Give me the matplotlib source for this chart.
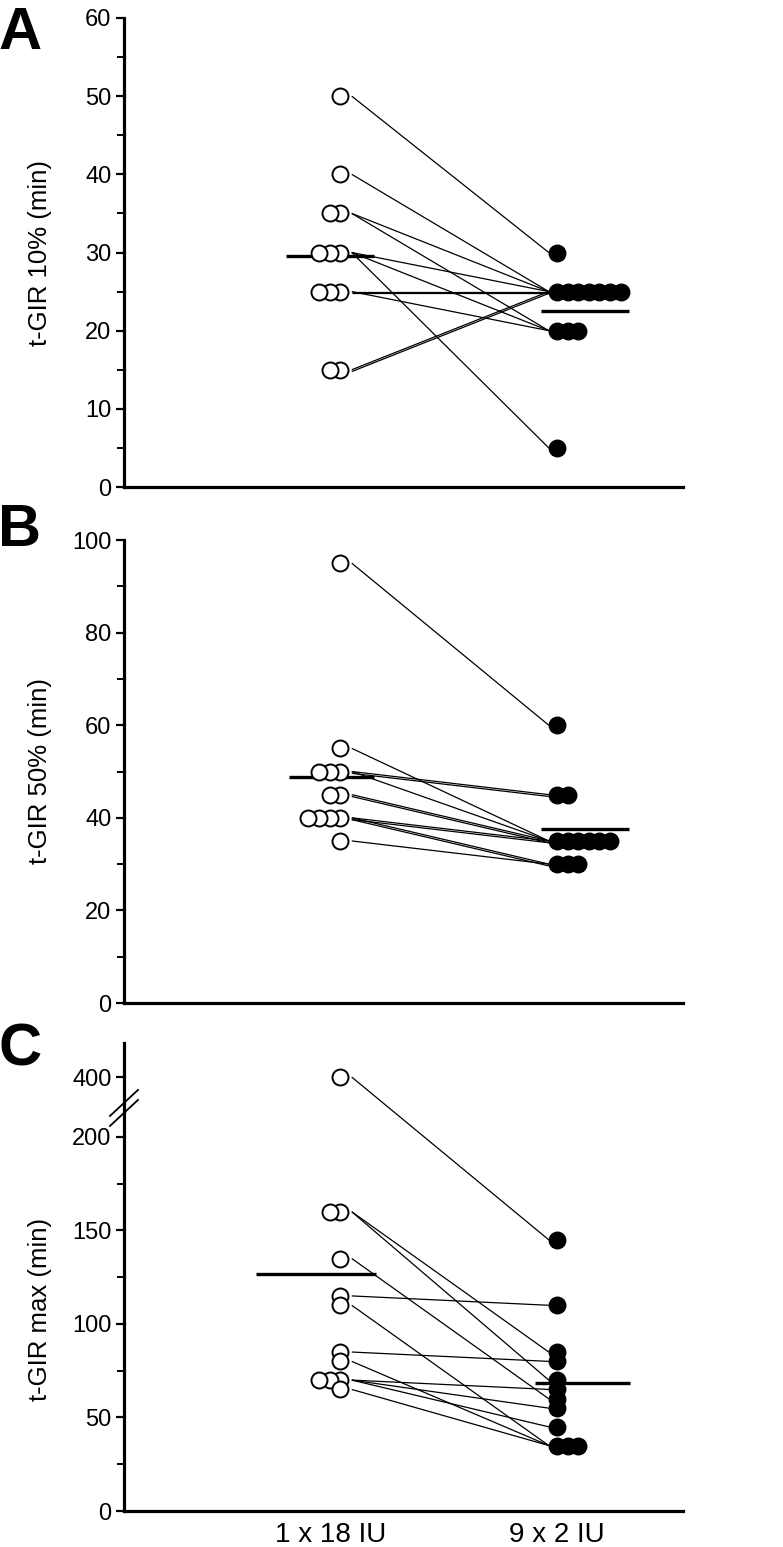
import matplotlib
matplotlib.use('Agg')
import matplotlib.pyplot as plt
import numpy as np
from collections import Counter
from matplotlib.ticker import FixedLocator, MultipleLocator
from matplotlib.lines import Line2D
import matplotlib.transforms as mtrans

plt.rcParams['font.family'] = ['Liberation Sans', 'DejaVu Sans']

# ---------------- data ----------------
groups = ['1 x 18 IU', '9 x 2 IU']

a_single = [50, 40, 35, 35, 30, 30, 30, 25, 25, 25, 15, 15]
a_split = [30, 25, 25, 20, 25, 20, 5, 25, 25, 20, 25, 25]

b_single = [95, 55, 50, 50, 50, 45, 45, 40, 40, 40, 40, 35]
b_split = [60, 35, 45, 45, 35, 35, 35, 35, 30, 30, 35, 30]

c_single = [400, 160, 160, 135, 115, 110, 85, 80, 70, 70, 70, 65]
c_split = [145, 85, 70, 60, 110, 35, 80, 35, 65, 55, 45, 35]

a_label = 't-GIR 10% (min)'
b_label = 't-GIR 50% (min)'
c_label = 't-GIR max (min)'

# ---------------- layout ----------------
W, H = 783, 1547
fig = plt.figure(figsize=(W / 100, H / 100), dpi=100)


def rect(l, r, b, t):
    return [l / W, 1 - b / H, (r - l) / W, (b - t) / H]


axA = fig.add_axes(rect(124, 683, 487, 18))
axB = fig.add_axes(rect(124, 683, 1003, 540))
axC = fig.add_axes(rect(124, 683, 1511, 1043))

FS_TICK = 17
FS_LABEL = 18.5
FS_XT = 20
MS = 11.5
LABEL_X = -0.128


def stack_x(values, base, step):
    seen = Counter()
    xs = []
    for v in values:
        xs.append(base + step * seen[v])
        seen[v] += 1
    return xs


def style_axis(ax):
    for s in ['top', 'right']:
        ax.spines[s].set_visible(False)
    for s in ['left', 'bottom']:
        ax.spines[s].set_linewidth(2.3)
    ax.tick_params(axis='y', which='major', direction='out', length=6, width=1.6,
                   labelsize=FS_TICK, pad=3)
    ax.tick_params(axis='y', which='minor', direction='out', length=5, width=1.4)
    ax.tick_params(axis='x', which='both', length=0, labelsize=FS_XT, pad=8)
    ax.set_xlim(0, 2.582)


def draw_panel(ax, single, split, open_mean_ext, filled_mean_ext):
    x1 = stack_x(single, 1.0, -0.05)
    x2 = stack_x(split, 2.0, 0.049)
    dup = Counter()
    for a, b in zip(single, split):
        k = dup[(a, b)]
        dup[(a, b)] += 1
        tr = mtrans.offset_copy(ax.transData, fig=fig, x=0, y=-1.3 * k, units='points')
        ax.plot([1.052, 1.962], [a, b], color='black', lw=0.9, transform=tr, zorder=1,
                solid_capstyle='butt')
    ax.hlines(np.mean(single), *open_mean_ext, colors='black', lw=2.4, zorder=2)
    ax.hlines(np.mean(split), *filled_mean_ext, colors='black', lw=2.4, zorder=2)
    ax.plot(x1, single, 'o', ms=MS, mfc='white', mec='black', mew=1.4, zorder=3, ls='none')
    ax.plot(x2, split, 'o', ms=MS, mfc='black', mec='black', mew=1.4, zorder=3, ls='none')


# Panel A
style_axis(axA)
draw_panel(axA, a_single, a_split, (0.75, 1.157), (1.926, 2.333))
axA.set_ylim(0, 60)
axA.yaxis.set_major_locator(MultipleLocator(10))
axA.yaxis.set_minor_locator(MultipleLocator(5))
axA.set_xticks([])
axA.set_ylabel(a_label, fontsize=FS_LABEL)
axA.yaxis.set_label_coords(LABEL_X, 0.5)

# Panel B
style_axis(axB)
draw_panel(axB, b_single, b_split, (0.76, 1.157), (1.926, 2.333))
axB.set_ylim(0, 100)
axB.yaxis.set_major_locator(MultipleLocator(20))
axB.yaxis.set_minor_locator(MultipleLocator(10))
axB.set_xticks([])
axB.set_ylabel(b_label, fontsize=FS_LABEL)
axB.yaxis.set_label_coords(LABEL_X, 0.5)

# Panel C with compressed region above 200 (axis break)
BREAK = 200.0
COMP = 0.16


def fwd(y):
    y = np.asarray(y, dtype=float)
    return np.where(y <= BREAK, y, BREAK + (y - BREAK) * COMP)


def inv(z):
    z = np.asarray(z, dtype=float)
    return np.where(z <= BREAK, z, BREAK + (z - BREAK) / COMP)


style_axis(axC)
axC.set_yscale('function', functions=(fwd, inv))
draw_panel(axC, c_single, c_split, (0.61, 1.162), (1.90, 2.335))
axC.set_ylim(0, 514)
axC.yaxis.set_major_locator(FixedLocator([0, 50, 100, 150, 200, 400]))
axC.yaxis.set_minor_locator(FixedLocator([25, 75, 125, 175]))
axC.yaxis.set_major_formatter(matplotlib.ticker.FuncFormatter(lambda v, p: f'{v:.0f}'))
axC.yaxis.set_minor_formatter(matplotlib.ticker.NullFormatter())
axC.set_xticks([1, 2])
axC.set_xticklabels(groups)
axC.set_ylabel(c_label, fontsize=FS_LABEL)
axC.yaxis.set_label_coords(LABEL_X, 0.43)
# first group label sits centred on its whole (left-stacked) cluster
lbl0 = axC.get_xticklabels()[0]
lbl0.set_transform(lbl0.get_transform() + mtrans.ScaledTranslation(-10 / 100, 0, fig.dpi_scale_trans))

# break marks on the y axis
px, py = axC.transData.transform((0, 297))
for off in (-5, 5):
    fig.add_artist(Line2D([px - 14, px + 14], [py - 13 + off, py + 13 + off],
                          color='black', lw=1.3, transform=mtrans.IdentityTransform()))

# panel letters
for letter, top in (('A', 6), ('B', 503), ('C', 1023)):
    fig.text(-0.002, 1 - top / H, letter, fontsize=43, fontweight='bold', va='top', ha='left')

fig.savefig('out.png', dpi=100)
